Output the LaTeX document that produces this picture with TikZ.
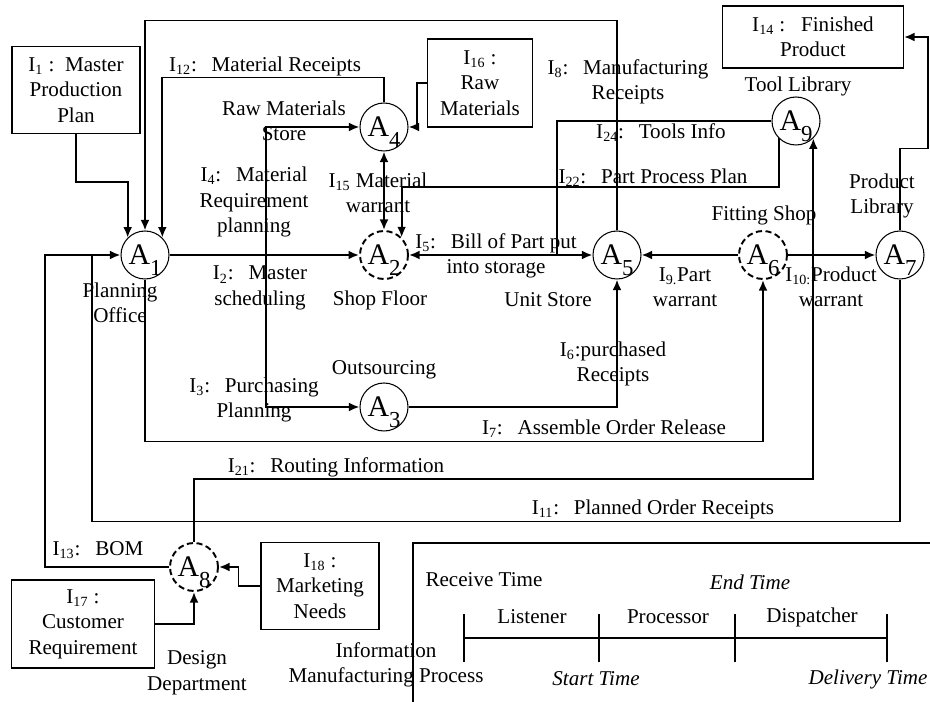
\documentclass[tikz,border=0pt]{standalone}
\usepackage{fontspec}
\setmainfont{Liberation Serif}
\usetikzlibrary{arrows.meta,positioning}

\newcommand{\info}[1]{I\textsubscript{#1}}
\newcommand{\cln}{:\hspace{0.7em}}
\newcommand{\act}[1]{A\raisebox{-0.35em}[0pt][0pt]{\fontsize{13}{13}\selectfont #1}}

\begin{document}
\begin{tikzpicture}[x=0.02cm, y=-0.02cm,
        font=\fontsize{12}{14.5}\selectfont,
        >={Latex[length=6pt,width=5pt]},
        proc/.style={draw, circle, line width=0.6pt, minimum size=0.96cm, inner sep=0pt, font=\fontsize{17}{20}\selectfont},
        dproc/.style={proc, line width=1.1pt, dash pattern=on 3.5pt off 2pt},
        infobox/.style={draw, rectangle, line width=0.6pt, align=center, inner sep=1pt},
        lbl/.style={align=center, inner sep=0pt},
        conn/.style={line width=1.1pt, ->},
        wire/.style={line width=1.1pt}
    ]
        \useasboundingbox (0,0) rectangle (930,702);

        % Processes
        \node[proc]  (A1) at (145,255) {\act{1}};
        \node[dproc] (A2) at (384,255) {\act{2}};
        \node[proc]  (A3) at (384,407) {\act{3}};
        \node[proc]  (A4) at (384,127) {\act{4}};
        \node[proc]  (A5) at (617,255) {\act{5}};
        \node[dproc] (A6) at (763,255) {\act{6}};
        \node[proc]  (A7) at (900,255) {\act{7}};
        \node[dproc] (A8) at (194,567) {\act{8}};
        \node[proc]  (A9) at (796,121) {\act{9}};

        % Departments
        \node[lbl] (lPO)  at (120,303) {Planning\\Office};
        \node[lbl] (lRMS) at (284,121) {Raw Materials\\Store};
        \node[lbl] (lSF)  at (380,300) {Shop Floor};
        \node[lbl] (lOut) at (384,370) {Outsourcing};
        \node[lbl] (lUS)  at (548,300) {Unit Store};
        \node[lbl] (lFS)  at (764,215) {Fitting Shop};
        \node[lbl] (lPL)  at (882,196) {Product\\Library};
        \node[lbl] (lTL)  at (798,86) {Tool Library};
        \node[lbl] (lDD)  at (197,673) {Design\\Department};

        % External information
        \node[infobox, minimum width=2.56cm, minimum height=1.74cm] (in1) at (76,90) {\info{1} :\ \ Master\\Production\\Plan};
        \node[infobox, minimum width=2.1cm, minimum height=1.76cm] (in16) at (480,83) {\info{16} :\\Raw\\Materials};
        \node[infobox, minimum width=3.62cm, minimum height=1.24cm] (in14) at (813,37) {\info{14} :\ \ \ Finished\\Product};
        \node[infobox, minimum width=2.86cm, minimum height=1.76cm] (in17) at (83,624) {\info{17} :\\Customer\\Requirement};
        \node[infobox, minimum width=2.36cm, minimum height=1.74cm] (in18) at (320,586) {\info{18} :\\Marketing\\Needs};

        % Flows
        \draw[conn] (in1.south) -- ++(0,48) -| (A1.north west);
        \draw[conn] (A5.north) -- ++(0,-210) -| (A1.north);
        \draw[conn] (A4.north) -- ++(0,-25) -| (A1.north east);
        \draw[conn] (A1.east) -- (A2.west);
        \coordinate (j1) at (266,255);
        \draw[conn] (j1) |- (A4.west);
        \draw[conn] (j1) |- (A3.west);
        \draw[conn] (A1.south) -- ++(0,162) -| (A6.south);
        \draw[conn] (A3.east) -| (A5.south);
        \draw[conn, <->] (A2.east) -- (A5.west);
        \coordinate (j2) at (557,255);
        \draw[wire] (A9.west) -| (j2);
        \draw[conn] (A9.south west) -- ++(0,49) -| (A2.north east);
        \draw[conn, <->] (A4.south) -- (A2.north);
        \draw[conn] (in16.west) -- ++(-10,0) |- (A4.east);
        \draw[conn] (A6.west) -- (A5.east);
        \draw[conn] (A6.east) -- (A7.west);
        \draw[conn] (A8.north) -- ++(0,-63) -| (A9.south east);
        \coordinate (j3) at (92,255);
        \coordinate (j4) at (45,255);
        \draw[wire] (A7.south) -- ++(0,242) -| (j3);
        \draw[conn] (A8.west) -| (j4) -- (A1.west);
        \draw[conn] (A7.north) -- ++(0,-82) -- ++(28,0) |- (in14.east);
        \draw[conn] (in17.east) -| (A8.south);
        \draw[conn] (in18.west) -- ++(-22,0) |- (A8.east);

        % Flow labels
        \node[lbl] (l12) at (265,66)  {\info{12}\cln Material Receipts};
        \node[lbl] (l4)  at (254,202) {\info{4}\cln Material\\Requirement\\planning};
        \node[lbl] (l15) at (378,193) {\info{15} Material\\warrant};
        \node[lbl] (l8)  at (628,82)  {\info{8}\cln Manufacturing\\Receipts};
        \node[lbl] (l24) at (661,133) {\info{24}\cln Tools Info};
        \node[lbl] (l22) at (653,178) {\info{22}\cln Part Process Plan};
        \node[lbl] (l5)  at (496,256) {\info{5}\cln Bill of Part put\\into storage};
        \node[lbl] (l2)  at (260,288) {\info{2}\cln Master\\scheduling};
        \node[lbl] (l3)  at (254,400) {\info{3}\cln Purchasing\\Planning};
        \node[lbl] (l6)  at (613,364) {\info{6}:purchased\\Receipts};
        \node[lbl] (l7)  at (604,429) {\info{7}\cln Assemble Order Release};
        \node[lbl] (l9)  at (685,287) {\info{9.}Part\\warrant};
        \node[lbl] (l10) at (831,287) {\info{10:}Product\\warrant};
        \node[lbl] (l21) at (336,467) {\info{21}\cln Routing Information};
        \node[lbl] (l11) at (653,509) {\info{11}\cln Planned Order Receipts};
        \node[lbl] (l13) at (98,550)  {\info{13}\cln BOM};

        % Information manufacturing process
        \draw[line width=0.6pt] (413,702) -- (413,543) -- (930,543);
        \draw[line width=0.6pt] (464,638) -- (887,638);
        \foreach \x in {464,599,735,887}
            \draw[line width=0.6pt] (\x,614) -- (\x,662);
        \node[lbl] (tRecv) at (484,580) {Receive Time};
        \node[lbl] (tEnd)  at (750,582) {\itshape End Time};
        \node[lbl] (tLis)  at (532,617) {Listener};
        \node[lbl] (tPro)  at (668,617) {Processor};
        \node[lbl] (tDis)  at (812,617) {Dispatcher};
        \node[lbl] (tStart) at (596,679) {\itshape Start Time};
        \node[lbl] (tDel)  at (868,679) {\itshape Delivery Time};
        \node[lbl] (tIMP)  at (386,665) {Information\\Manufacturing Process};
    \end{tikzpicture}
\end{document}
